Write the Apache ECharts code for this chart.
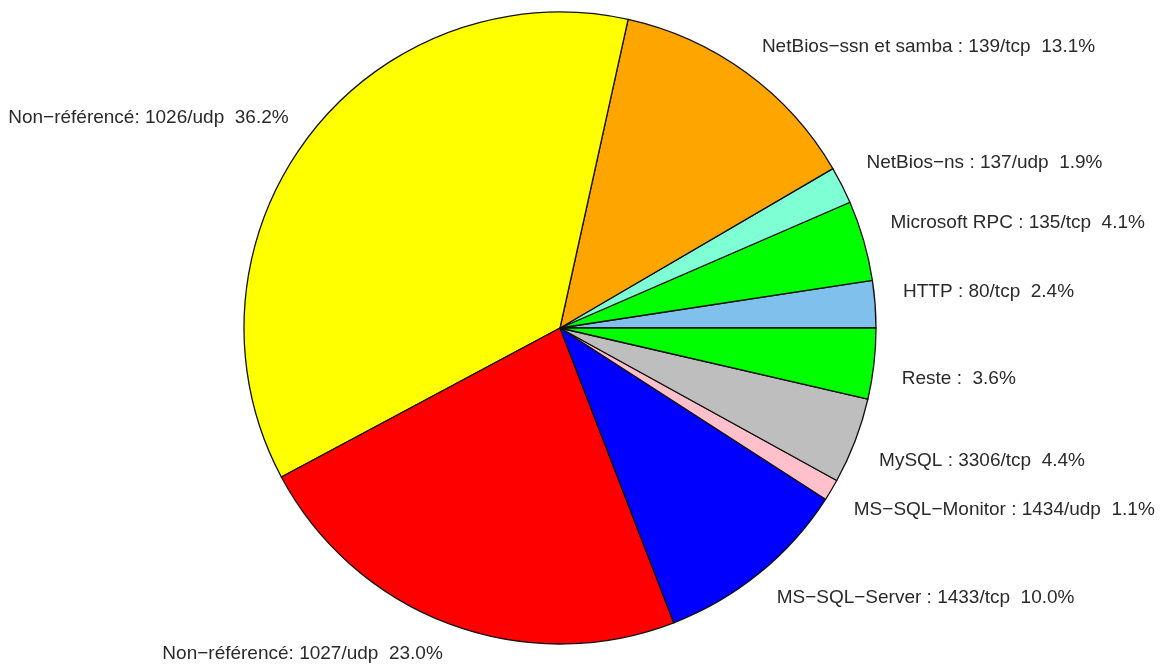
<!DOCTYPE html>
<html>
<head>
<meta charset="utf-8">
<script src="https://cdn.jsdelivr.net/npm/echarts@6/dist/echarts.min.js"></script>
<style>html,body{margin:0;padding:0;background:#fff;}#c{width:1161px;height:666px;}</style>
</head>
<body>
<div id="c"></div>
<script>
// Slices in drawing order (counter-clockwise from 3 o'clock)
const names = [
  "HTTP : 80/tcp",
  "Microsoft RPC : 135/tcp",
  "NetBios\u2212ns : 137/udp",
  "NetBios\u2212ssn et samba : 139/tcp",
  "Non\u2212référencé: 1026/udp",
  "Non\u2212référencé: 1027/udp",
  "MS\u2212SQL\u2212Server : 1433/tcp",
  "MS\u2212SQL\u2212Monitor : 1434/udp",
  "MySQL : 3306/tcp",
  "Reste :"
];
const percents = [2.4, 4.1, 1.9, 13.1, 36.2, 23.0, 10.0, 1.1, 4.4, 3.6];
const colors = ["#80C0EC", "#00FF00", "#7FFFD4", "#FFA500", "#FFFF00", "#FF0000", "#0000FF", "#FFC0CB", "#BEBEBE", "#00FF00"];

// small label nudges, as in the reference
const labelShiftY = [-10, -9, -8, 0, 0, 0, 0, 3, 8, 11];
const labelShiftX = [-4, -4, -4, -3, 6, 4, -3, -5, -6, -4];

const chart = echarts.init(document.getElementById('c'));
chart.setOption({
  animation: false,
  series: [{
    type: 'pie',
    center: [560, 328],
    radius: [0, 316],
    startAngle: 0,
    clockwise: false,
    avoidLabelOverlap: false,
    data: names.map((n, i) => ({
      name: n, value: percents[i],
      itemStyle: { color: colors[i] },
      label: { offset: [labelShiftX[i], labelShiftY[i]] }
    })),
    itemStyle: { borderColor: '#111', borderWidth: 1.3 },
    label: {
      show: true,
      position: 'outside',
      formatter: p => p.name + '  ' + p.value.toFixed(1) + '%',
      fontFamily: 'Liberation Sans, Arial, sans-serif',
      fontSize: 19,
      color: '#2a2a2a',
      distanceToLabelLine: 0
    },
    labelLine: { show: false, length: 32, length2: 0 },
    emphasis: { disabled: true }
  }]
});
</script>
</body>
</html>
